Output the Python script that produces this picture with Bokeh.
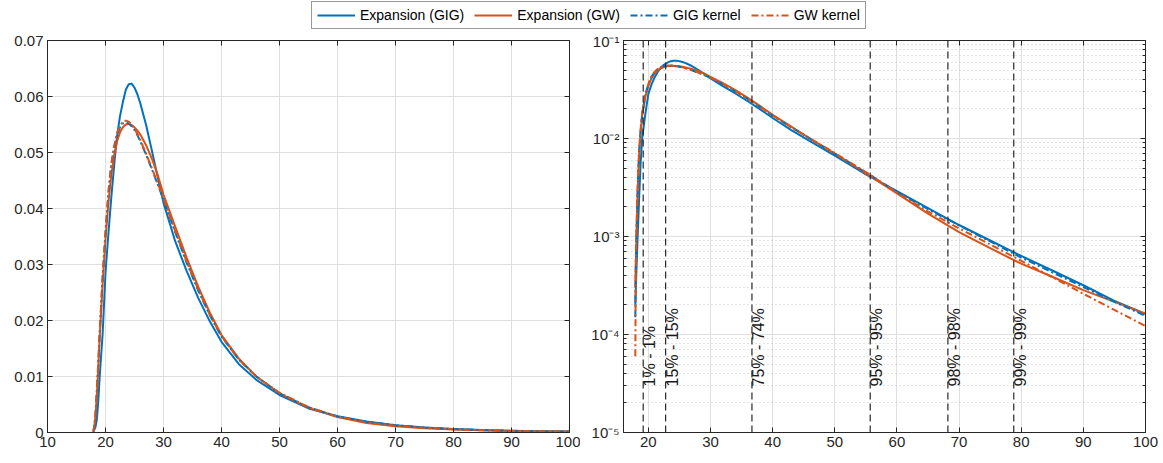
import math
from bokeh.plotting import figure
from bokeh.layouts import column, row
from bokeh.models import (Range1d, LinearAxis, LogAxis, FixedTicker, NumeralTickFormatter,
                          CustomJSTickFormatter, Legend, LegendItem, Span)
from bokeh.core.properties import value
from bokeh.embed import file_html
from bokeh.resources import INLINE

# ---------------- data ----------------
x = [17.9, 18.0, 18.25, 18.5, 18.75, 19.0, 19.5, 20.0, 20.5, 21.0,
     21.5, 22.0, 22.5, 23.0, 23.5, 24.0, 24.5, 25.0, 25.5, 26.0,
     27.0, 28.0, 29.0, 30.0,
     32.0, 34.0, 36.0, 38.0, 40.0, 43.0, 46.0, 50.0,
     55.0, 60.0, 65.0, 70.0, 75.0, 80.0, 85.0, 90.0, 95.0, 100.0]

expansion_gig = [2.0e-4, 3.2e-4, 9e-4, 2.3e-3, 5.5e-3, 1.0e-2, 1.75e-2, 2.85e-2, 3.55e-2, 4.2e-2,
                 4.78e-2, 5.3e-2, 5.65e-2, 5.9e-2, 6.12e-2, 6.22e-2, 6.23e-2, 6.16e-2, 6.04e-2, 5.88e-2,
                 5.49e-2, 5.03e-2, 4.56e-2, 4.1e-2,
                 3.42e-2, 2.88e-2, 2.4e-2, 1.98e-2, 1.62e-2, 1.22e-2, 9.4e-3, 6.7e-3,
                 4.3e-3, 2.9e-3, 1.95e-3, 1.31e-3, 9.1e-4, 6.35e-4, 4.5e-4, 3.18e-4, 2.2e-4, 1.62e-4]

expansion_gw = [3e-4, 6e-4, 2.5e-3, 6.5e-3, 1.15e-2, 1.7e-2, 2.65e-2, 3.45e-2, 4.1e-2, 4.6e-2,
                4.96e-2, 5.2e-2, 5.36e-2, 5.45e-2, 5.5e-2, 5.51e-2, 5.49e-2, 5.45e-2, 5.39e-2, 5.32e-2,
                5.13e-2, 4.89e-2, 4.6e-2, 4.25e-2,
                3.68e-2, 3.12e-2, 2.6e-2, 2.14e-2, 1.74e-2, 1.32e-2, 1.0e-2, 7.0e-3,
                4.4e-3, 2.75e-3, 1.71e-3, 1.11e-3, 7.6e-4, 5.28e-4, 3.88e-4, 2.84e-4, 2.15e-4, 1.63e-4]

kernel_gig = [1.5e-4, 6e-4, 2.6e-3, 7e-3, 1.2e-2, 1.75e-2, 2.75e-2, 3.55e-2, 4.25e-2, 4.78e-2,
              5.09e-2, 5.32e-2, 5.45e-2, 5.52e-2, 5.54e-2, 5.52e-2, 5.47e-2, 5.4e-2, 5.31e-2, 5.2e-2,
              4.96e-2, 4.7e-2, 4.43e-2, 4.16e-2,
              3.58e-2, 3.03e-2, 2.53e-2, 2.09e-2, 1.71e-2, 1.3e-2, 1.0e-2, 7.0e-3,
              4.5e-3, 2.85e-3, 1.9e-3, 1.3e-3, 8.9e-4, 6.1e-4, 4.3e-4, 3.05e-4, 2.15e-4, 1.55e-4]

kernel_gw = [6e-5, 8e-4, 3e-3, 7.5e-3, 1.25e-2, 1.8e-2, 2.8e-2, 3.6e-2, 4.3e-2, 4.8e-2,
             5.12e-2, 5.35e-2, 5.48e-2, 5.55e-2, 5.57e-2, 5.55e-2, 5.5e-2, 5.42e-2, 5.33e-2, 5.22e-2,
             4.98e-2, 4.72e-2, 4.45e-2, 4.18e-2,
             3.6e-2, 3.05e-2, 2.55e-2, 2.1e-2, 1.72e-2, 1.3e-2, 1.0e-2, 7.1e-3,
             4.55e-3, 2.8e-3, 1.8e-3, 1.21e-3, 8.3e-4, 5.65e-4, 3.85e-4, 2.6e-4, 1.78e-4, 1.22e-4]

series_names = ["Expansion (GIG)", "Expansion (GW)", "GIG kernel", "GW kernel"]

quantile_x = [19.17, 22.78, 36.67, 55.7, 68.2, 78.8]
quantile_labels = ["1% - 1%", "15% - 15%", "75% - 74%", "95% - 95%", "98% - 98%", "99% - 99%"]

left_x_ticks = [10, 20, 30, 40, 50, 60, 70, 80, 90, 100]
left_y_ticks = [0, 0.01, 0.02, 0.03, 0.04, 0.05, 0.06, 0.07]
right_x_ticks = [20, 30, 40, 50, 60, 70, 80, 90, 100]
right_y_ticks = [1e-5, 1e-4, 1e-3, 1e-2, 1e-1]

# ---------------- styling ----------------
BLUE = "#0072BD"
ORANGE = "#D95319"
AX = "#262626"
FONT = "Liberation Sans"
TICK_FS = "15px"
GRID = "#dfdfdf"
MINOR_GRID = "#c8c8c8"
DASHDOT = "7 3 2 3"

styles = [
    (expansion_gig, BLUE, "solid"),
    (expansion_gw, ORANGE, "solid"),
    (kernel_gig, BLUE, DASHDOT),
    (kernel_gw, ORANGE, DASHDOT),
]

SUPJS = """
const sup = {'-':'\u207b','0':'\u2070','1':'\u00b9','2':'\u00b2','3':'\u00b3','4':'\u2074',
             '5':'\u2075','6':'\u2076','7':'\u2077','8':'\u2078','9':'\u2079'};
const e = Math.round(Math.log10(tick));
return '10' + String(e).split('').map(c => sup[c]).join('');
"""


def style_axis(ax, show_labels=True):
    ax.axis_line_color = AX
    ax.major_tick_line_color = AX
    ax.minor_tick_line_color = AX
    ax.major_tick_in = 5
    ax.major_tick_out = 0
    ax.minor_tick_in = 3
    ax.minor_tick_out = 0
    ax.major_label_text_font = FONT
    ax.major_label_text_color = AX
    ax.major_label_text_font_size = TICK_FS
    if show_labels:
        ax.major_label_standoff = 4
    else:
        ax.formatter = CustomJSTickFormatter(code="return '';")
        ax.major_label_standoff = 0


H = 430

# ---------------- left (linear) plot ----------------
p1 = figure(width=580, height=H, x_range=Range1d(10, 100), y_range=Range1d(0, 0.07),
            toolbar_location=None, output_backend="svg",
            min_border_left=47, min_border_right=11, min_border_top=8, min_border_bottom=30)
p1.outline_line_color = AX
xt1 = FixedTicker(ticks=left_x_ticks)
yt1 = FixedTicker(ticks=left_y_ticks)
p1.xaxis.ticker = xt1
p1.yaxis.ticker = yt1
p1.yaxis.formatter = NumeralTickFormatter(format="0.[00]")
p1.xgrid.ticker = xt1
p1.ygrid.ticker = yt1
for ax in p1.xaxis + p1.yaxis:
    style_axis(ax)
ra = LinearAxis(ticker=yt1)
style_axis(ra, False)
p1.add_layout(ra, "right")
ta = LinearAxis(ticker=xt1)
style_axis(ta, False)
p1.add_layout(ta, "above")
p1.grid.grid_line_color = GRID
p1.grid.grid_line_width = 1

for ys, color, dash in styles:
    p1.line(x, ys, line_color=color, line_width=2, line_dash=dash, line_join="round")

# ---------------- right (log) plot ----------------
p2 = figure(width=582, height=H, x_range=Range1d(16, 100), y_range=Range1d(1e-5, 1e-1),
            y_axis_type="log", toolbar_location=None, output_backend="svg",
            min_border_left=43, min_border_right=17, min_border_top=8, min_border_bottom=30)
p2.outline_line_color = AX
minor_log = [m * 10.0 ** e for e in range(-5, -1) for m in range(2, 10)]
xt2 = FixedTicker(ticks=right_x_ticks)
yt2 = FixedTicker(ticks=right_y_ticks, minor_ticks=minor_log)
p2.xaxis.ticker = xt2
p2.yaxis.ticker = yt2
p2.yaxis.formatter = CustomJSTickFormatter(code=SUPJS)
p2.xgrid.ticker = xt2
p2.ygrid.ticker = yt2
for ax in p2.xaxis + p2.yaxis:
    style_axis(ax)
ra2 = LogAxis(ticker=yt2)
style_axis(ra2, False)
p2.add_layout(ra2, "right")
ta2 = LinearAxis(ticker=xt2)
style_axis(ta2, False)
p2.add_layout(ta2, "above")
p2.grid.grid_line_color = GRID
p2.ygrid.minor_grid_line_color = MINOR_GRID
p2.ygrid.minor_grid_line_dash = "1 3"

for ys, color, dash in styles:
    p2.line(x, ys, line_color=color, line_width=2, line_dash=dash, line_join="round")

for q in quantile_x:
    p2.add_layout(Span(location=q, dimension="height", line_color=AX, line_width=1.2,
                       line_dash="7 4"))

label_y = 10 ** -4.53
p2.text(x=quantile_x, y=[label_y] * len(quantile_x), text=quantile_labels,
        angle=math.pi / 2, text_align="left", text_baseline="top", x_offset=-2,
        text_font=value(FONT), text_font_size="16px", text_color="#1a1a1a")

# ---------------- legend strip ----------------
leg = figure(width=1162, height=32, x_range=Range1d(0, 1), y_range=Range1d(0, 1),
             toolbar_location=None, output_backend="svg", min_border=0,
             x_axis_location=None, y_axis_location=None, outline_line_color=None)
leg.grid.visible = False
items = []
for name, (ys, color, dash) in zip(series_names, styles):
    # the series lie outside this strip's ranges: only their legend samples show
    r = leg.line(x, ys, line_color=color, line_width=2, line_dash=dash)
    items.append(LegendItem(label=name, renderers=[r]))
legend = Legend(items=items, orientation="horizontal", location=(311, 3),
                padding=5, margin=0, spacing=10, glyph_width=38, glyph_height=16,
                label_height=16, label_standoff=5,
                label_text_font=FONT, label_text_font_size="14px", label_text_color="#000000",
                border_line_color="#333333", border_line_width=1,
                background_fill_color="white", background_fill_alpha=1.0)
leg.add_layout(legend, "center")

layout = column(leg, row(p1, p2))
open("out.html", "w").write(file_html(layout, INLINE))
